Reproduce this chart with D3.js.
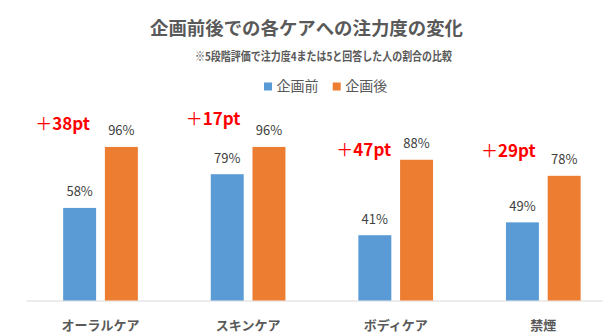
<!DOCTYPE html>
<html>
<head>
<meta charset="utf-8">
<script src="https://cdn.jsdelivr.net/npm/d3@7"></script>
<style>
  html, body { margin: 0; padding: 0; background: #fff; }
  svg { display: block; font-family: "Noto Sans CJK JP", "Noto Sans", sans-serif; }
</style>
</head>
<body>
<svg id="chart" width="603" height="332"></svg>
<script>
// Care categories and the share (%) rating attention 4 or 5, before / after
const categories = ["オーラルケア", "スキンケア", "ボディケア", "禁煙"];
const seriesNames = ["企画前", "企画後"];
const before = [58, 79, 41, 49];
const after = [96, 96, 88, 78];

const colors = { "企画前": "#5B9BD5", "企画後": "#ED7D31" };

// vertical offset (px) of each "+Npt" callout from the top of the 企画後 bar, and its shift left of the group centre
const calloutLift = [16.5, 22, 4, 18.5];
const calloutShift = [-38, -35, -32, -35];

const svg = d3.select("#chart");
const W = 603, H = 332;

const rows = categories.map((c, i) => ({ cat: c, values: [before[i], after[i]] }));

const x0 = d3.scaleBand()
  .domain(categories)
  .range([26.7, 617.1])
  .paddingInner(0.494)
  .paddingOuter(0.247);

const x1 = d3.scaleBand()
  .domain(seriesNames)
  .range([0, x0.bandwidth()])
  .paddingInner(0.21);

const y = d3.scaleLinear().domain([0, 100]).range([301, 140.5]);

// title and note
svg.append("text")
  .attr("x", 306.5).attr("y", 35)
  .attr("text-anchor", "middle")
  .attr("font-size", 18).attr("font-weight", "bold")
  .attr("fill", "#595959")
  .attr("textLength", 313).attr("lengthAdjust", "spacingAndGlyphs")
  .text("企画前後での各ケアへの注力度の変化");

svg.append("text")
  .attr("x", 323.5).attr("y", 60.5)
  .attr("text-anchor", "middle")
  .attr("font-size", 12).attr("font-weight", "bold")
  .attr("fill", "#595959")
  .attr("textLength", 257).attr("lengthAdjust", "spacingAndGlyphs")
  .text("※5段階評価で注力度4または5と回答した人の割合の比較");

// legend
const legendX = [264, 332.7];
const legend = svg.append("g");
seriesNames.forEach((s, i) => {
  legend.append("rect")
    .attr("x", legendX[i]).attr("y", 82.5)
    .attr("width", 8).attr("height", 8)
    .attr("fill", colors[s]);
  legend.append("text")
    .attr("x", legendX[i] + 12.5).attr("y", 91)
    .attr("font-size", 14).attr("fill", "#595959")
    .text(s);
});

// baseline
svg.append("line")
  .attr("x1", 26.7).attr("x2", W)
  .attr("y1", 301).attr("y2", 301)
  .attr("stroke", "#d9d9d9").attr("stroke-width", 1);

// bars
const groups = svg.append("g").selectAll("g")
  .data(rows).join("g")
  .attr("transform", d => `translate(${x0(d.cat)},0)`);

groups.selectAll("rect")
  .data(d => d.values.map((v, j) => ({ s: seriesNames[j], v })))
  .join("rect")
  .attr("x", d => x1(d.s))
  .attr("y", d => y(d.v))
  .attr("width", x1.bandwidth())
  .attr("height", d => y(0) - y(d.v) - 0.5)
  .attr("fill", d => colors[d.s]);

groups.selectAll("text.val")
  .data(d => d.values.map((v, j) => ({ s: seriesNames[j], v })))
  .join("text")
  .attr("class", "val")
  .attr("x", d => x1(d.s) + x1.bandwidth() / 2)
  .attr("y", d => y(d.v) - 11.5)
  .attr("text-anchor", "middle")
  .attr("font-size", 13).attr("fill", "#404040")
  .text(d => d.v + "%");

// category labels (the chart frame trims their lower edge)
svg.append("g").selectAll("text")
  .data(categories).join("text")
  .attr("x", d => x0(d) + x0.bandwidth() / 2)
  .attr("y", 330)
  .attr("text-anchor", "middle")
  .attr("font-size", 13).attr("font-weight", "bold")
  .attr("fill", "#595959")
  .text(d => d);

// point-change callouts
const callouts = svg.append("g").selectAll("text")
  .data(rows).join("text")
  .attr("x", (d, i) => x0(d.cat) + x0.bandwidth() / 2 + calloutShift[i])
  .attr("y", (d, i) => y(d.values[1]) - calloutLift[i])
  .attr("text-anchor", "middle")
  .attr("fill", "#FF0000");
callouts.append("tspan")
  .attr("font-size", 17).attr("font-weight", "normal")
  .text("＋");
callouts.append("tspan")
  .attr("font-size", 17).attr("font-weight", "bold")
  .text(d => (d.values[1] - d.values[0]) + "pt");
</script>
</body>
</html>
